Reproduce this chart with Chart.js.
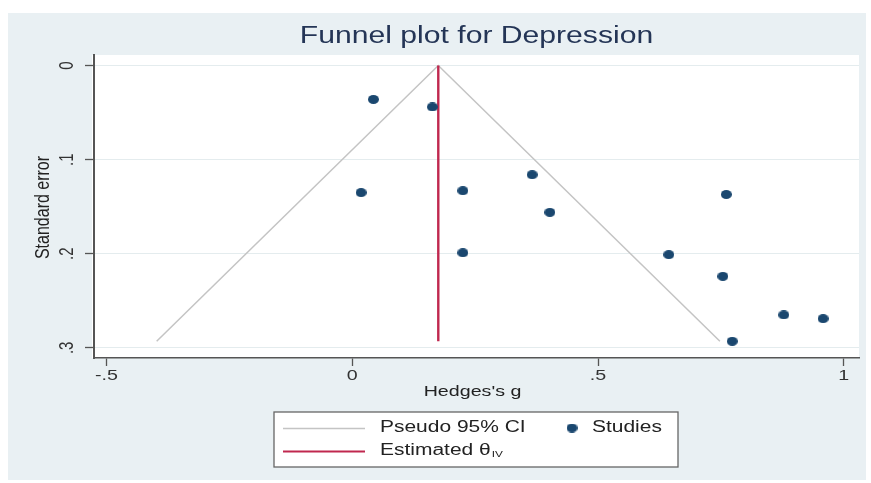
<!DOCTYPE html>
<html>
<head>
<meta charset="utf-8">
<script src="https://cdn.jsdelivr.net/npm/chart.js@4"></script>
<style>
  html, body { margin: 0; padding: 0; background: #ffffff; }
  #wrap { position: relative; width: 871px; height: 483px; }
  #bg { position: absolute; left: 8px; top: 13px; width: 858px; height: 467px; background: #e9f0f3; }
  canvas { position: absolute; left: 0; top: 0; }
</style>
</head>
<body>
<div id="wrap">
  <div id="bg"></div>
  <canvas id="funnel" width="871" height="483"></canvas>
</div>
<script>
// valores
const hedgesG = [0.043, 0.163, 0.018, 0.225, 0.366, 0.402, 0.225, 0.644, 0.761, 0.754, 0.878, 0.958, 0.773];
const stdErr  = [0.036, 0.044, 0.135, 0.133, 0.116, 0.156, 0.199, 0.201, 0.137, 0.224, 0.265, 0.269, 0.293];
const thetaIV = 0.175;
const thetaSE = [0, 0.293];
const funnelG  = [-0.398, 0.175, 0.748];
const funnelSE = [0.293, 0, 0.293];
const xTicks = [-0.5, 0, 0.5, 1];
const yTicks = [0, 0.1, 0.2, 0.3];
const xTickLabels = ['-.5', '0', '.5', '1'];
const yTickLabels = ['0', '.1', '.2', '.3'];

const NAVY = '#1a476f';
const RED = '#c0284f';
const GRAY = '#c4c4c4';
const AXIS = '#555555';
const FONT = '"Liberation Sans", Arial, sans-serif';
const SX = 1.31; // a imagem original é esticada na horizontal

// marcador elíptico (os pontos aparecem achatados)
function makeDot(w, h, color) {
    const c = document.createElement('canvas');
    c.width = w; c.height = h;
    const g = c.getContext('2d');
    g.fillStyle = color;
    g.beginPath();
    g.ellipse(w / 2, h / 2, w / 2, h / 2, 0, 0, Math.PI * 2);
    g.fill();
    return c;
}

function txt(ctx, s, x, y, size, color, align, rot) {
    ctx.save();
    ctx.translate(x, y);
    if (rot) { ctx.rotate(-Math.PI / 2); ctx.scale(1, SX); }
    else ctx.scale(SX, 1);
    ctx.font = size + 'px ' + FONT;
    ctx.fillStyle = color;
    ctx.textAlign = align || 'center';
    ctx.textBaseline = 'middle';
    ctx.fillText(s, 0, 0);
    const w = ctx.measureText(s).width;
    ctx.restore();
    return rot ? w : w * SX;
}

const plotBg = {
    id: 'plotBg',
    beforeDraw(chart) {
        const a = chart.chartArea, ctx = chart.ctx;
        ctx.save();
        ctx.fillStyle = '#ffffff';
        ctx.fillRect(a.left - 2, a.top, a.right - a.left + 2, a.bottom - a.top);
        ctx.restore();
    }
};

const texts = {
    id: 'texts',
    afterDraw(chart) {
        const ctx = chart.ctx, a = chart.chartArea;
        const xs = chart.scales.x, ys = chart.scales.y;
        const cx = (a.left + a.right) / 2;

        // título
        txt(ctx, 'Funnel plot for Depression', cx, 37, 23, '#243556');

        // rótulos dos eixos
        xTicks.forEach((v, i) => txt(ctx, xTickLabels[i], xs.getPixelForValue(v), 376, 15, '#333'));
        yTicks.forEach((v, i) => txt(ctx, yTickLabels[i], 68, ys.getPixelForValue(v), 15, '#333', 'center', true));
        txt(ctx, "Hedges's g", cx - 4, 392, 15, '#222');
        txt(ctx, 'Standard error', 43, (a.top + a.bottom) / 2 + 1, 16, '#222', 'center', true);

        // legenda
        ctx.save();
        ctx.fillStyle = '#ffffff';
        ctx.fillRect(274, 412, 404, 55);
        ctx.strokeStyle = '#666';
        ctx.lineWidth = 1.3;
        ctx.strokeRect(274, 412, 404, 55);
        ctx.lineWidth = 1.5;
        ctx.strokeStyle = GRAY;
        ctx.beginPath(); ctx.moveTo(283, 428.5); ctx.lineTo(365, 428.5); ctx.stroke();
        ctx.lineWidth = 2;
        ctx.strokeStyle = RED;
        ctx.beginPath(); ctx.moveTo(283, 451.5); ctx.lineTo(365, 451.5); ctx.stroke();
        ctx.drawImage(dot, 572 - dot.width / 2, 428 - dot.height / 2);
        ctx.restore();
        txt(ctx, 'Pseudo 95% CI', 380, 428, 16, '#222', 'left');
        txt(ctx, 'Studies', 592, 428, 16, '#222', 'left');
        const w = txt(ctx, 'Estimated θ', 380, 451, 16, '#222', 'left');
        txt(ctx, 'IV', 380 + w + 1, 455, 9, '#222', 'left');
    }
};

const dot = makeDot(11, 9, NAVY);

const ctx = document.getElementById('funnel').getContext('2d');
const chart = new Chart(ctx, {
    type: 'scatter',
    data: {
        datasets: [
            {
                type: 'line',
                label: 'Pseudo 95% CI',
                data: funnelG.map((g, i) => ({ x: g, y: funnelSE[i] })),
                borderColor: GRAY,
                borderWidth: 1.5,
                pointRadius: 0,
                fill: false,
                tension: 0,
                order: 3
            },
            {
                type: 'line',
                label: 'Estimated θIV',
                data: thetaSE.map(se => ({ x: thetaIV, y: se })),
                borderColor: RED,
                borderWidth: 2.4,
                pointRadius: 0,
                fill: false,
                order: 2
            },
            {
                label: 'Studies',
                data: hedgesG.map((g, i) => ({ x: g, y: stdErr[i] })),
                pointStyle: dot,
                pointRadius: 5,
                backgroundColor: NAVY,
                borderWidth: 0,
                order: 1
            }
        ]
    },
    options: {
        responsive: false,
        animation: false,
        events: [],
        layout: { padding: { left: 8, right: 12, top: 55, bottom: 85 } },
        plugins: {
            legend: { display: false },
            tooltip: { enabled: false },
            title: { display: false }
        },
        scales: {
            x: {
                type: 'linear',
                min: -0.5255,
                max: 1.031,
                afterBuildTicks: s => { s.ticks = xTicks.map(v => ({ value: v })); },
                afterFit: s => { s.height = 40; },
                ticks: { display: false },
                grid: { drawOnChartArea: false, drawTicks: true, tickLength: 8, tickColor: AXIS, tickWidth: 1.3 },
                border: { color: AXIS, width: 1.5 }
            },
            y: {
                type: 'linear',
                reverse: true,
                min: -0.0112,
                max: 0.3108,
                afterBuildTicks: s => { s.ticks = yTicks.map(v => ({ value: v })); },
                afterFit: s => { s.width = 86; },
                ticks: { display: false },
                grid: { color: '#e4ecee', lineWidth: 1, drawTicks: true, tickLength: 9, tickColor: AXIS, tickWidth: 1.3 },
                border: { color: AXIS, width: 2 }
            }
        }
    },
    plugins: [plotBg, texts]
});
</script>
</body>
</html>
